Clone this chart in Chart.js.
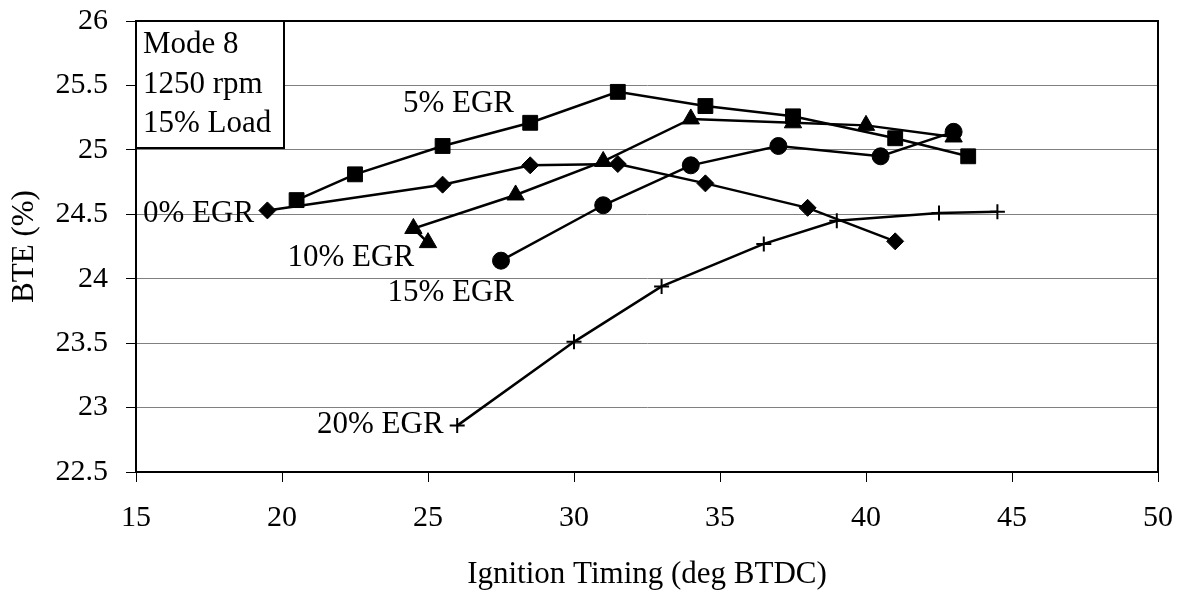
<!DOCTYPE html>
<html>
<head>
<meta charset="utf-8">
<script src="https://cdn.jsdelivr.net/npm/chart.js@4/dist/chart.umd.min.js"></script>
<style>
  html, body { margin: 0; padding: 0; background: #fff; }
  #wrap { width: 1184px; height: 595px; }
</style>
</head>
<body>
<div id="wrap"><canvas id="c" width="1184" height="595"></canvas></div>
<script>
// Brake thermal efficiency vs ignition timing, Mode 8 (1250 rpm, 15% load)
const timing0 = [19.5, 25.5, 28.5, 31.5, 34.5, 38, 41];
const bte0    = [24.53, 24.73, 24.88, 24.89, 24.74, 24.55, 24.29];

const timing5 = [20.5, 22.5, 25.5, 28.5, 31.5, 34.5, 37.5, 41, 43.5];
const bte5    = [24.61, 24.81, 25.03, 25.21, 25.45, 25.34, 25.26, 25.09, 24.95];

const timing10 = [25, 24.5, 28, 31, 34, 37.5, 40, 43];
const bte10    = [24.28, 24.39, 24.65, 24.91, 25.24, 25.21, 25.19, 25.10];

const timing15 = [27.5, 31, 34, 37, 40.5, 43];
const bte15    = [24.14, 24.57, 24.88, 25.03, 24.95, 25.14];

const timing20 = [26, 30, 33, 36.5, 39, 42.5, 44.5];
const bte20    = [22.86, 23.51, 23.94, 24.27, 24.45, 24.51, 24.52];

const seriesNames = ['0% EGR', '5% EGR', '10% EGR', '15% EGR', '20% EGR'];

const xTickValues = [15, 20, 25, 30, 35, 40, 45, 50];
const yTickValues = [22.5, 23, 23.5, 24, 24.5, 25, 25.5, 26];
const yTickLabels = ['22.5', '23', '23.5', '24', '24.5', '25', '25.5', '26'];

// where each curve's name sits, in axis units (left edge, baseline)
const labelX = [15.24, 24.14, 20.19, 23.61, 21.2];
const labelY = [24.44, 25.294, 24.099, 23.83, 22.80];

const noteLines = ['Mode 8', '1250 rpm', '15% Load'];

const SERIF = '"Liberation Serif", "Times New Roman", serif';

function points(xs, ys) {
  return xs.map((v, i) => ({ x: v, y: ys[i] }));
}

const markerStyle = [
  { pointStyle: 'rectRot', pointRadius: 8.5, pointBorderWidth: 1 },
  { pointStyle: 'rect', pointRadius: 10.5, pointBorderWidth: 1 },
  { pointStyle: 'triangle', pointRadius: 10, pointBorderWidth: 1 },
  { pointStyle: 'circle', pointRadius: 8.5, pointBorderWidth: 1 },
  { pointStyle: 'cross', pointRadius: 7.5, pointBorderWidth: 2 }
];

const seriesData = [
  points(timing0, bte0),
  points(timing5, bte5),
  points(timing10, bte10),
  points(timing15, bte15),
  points(timing20, bte20)
];

const datasets = seriesData.map((d, i) => Object.assign({
  label: seriesNames[i],
  data: d,
  borderColor: '#000',
  backgroundColor: '#000',
  borderWidth: 2.5,
  pointBackgroundColor: '#000',
  pointBorderColor: '#000',
  tension: 0,
  fill: false
}, markerStyle[i]));

const overlay = {
  id: 'overlay',
  afterDatasetsDraw(chart) {
    const { ctx, chartArea: a, scales: { x, y } } = chart;
    ctx.save();
    // plot frame
    ctx.strokeStyle = '#000';
    ctx.lineWidth = 2;
    ctx.strokeRect(a.left, a.top, a.right - a.left, a.bottom - a.top);

    // curve names
    ctx.fillStyle = '#000';
    ctx.font = '31px ' + SERIF;
    ctx.textAlign = 'left';
    ctx.textBaseline = 'alphabetic';
    seriesNames.forEach((name, i) => {
      ctx.fillText(name, x.getPixelForValue(labelX[i]), y.getPixelForValue(labelY[i]));
    });

    // operating-point note box
    const bw = 148, bh = 127;
    ctx.fillStyle = '#fff';
    ctx.fillRect(a.left, a.top, bw, bh);
    ctx.strokeRect(a.left, a.top, bw, bh);
    ctx.fillStyle = '#000';
    noteLines.forEach((t, i) => {
      ctx.fillText(t, a.left + 7, a.top + 32 + i * 39.5);
    });
    ctx.restore();
  }
};

new Chart(document.getElementById('c'), {
  type: 'line',
  data: { datasets },
  plugins: [overlay],
  options: {
    responsive: false,
    animation: false,
    layout: { padding: { left: 0, right: 26, top: 21, bottom: 0 } },
    plugins: {
      legend: { display: false },
      tooltip: { enabled: false }
    },
    scales: {
      x: {
        type: 'linear',
        min: 15,
        max: 50,
        afterBuildTicks: (s) => { s.ticks = xTickValues.map(v => ({ value: v })); },
        afterFit: (s) => { s.height = 123; s.paddingLeft = 0; s.paddingRight = 0; },
        grid: { drawOnChartArea: false, tickLength: 10, tickColor: '#000', tickWidth: 1 },
        border: { display: true, color: '#000', width: 2 },
        ticks: {
          color: '#000',
          padding: 18,
          font: { family: SERIF, size: 30 },
          maxRotation: 0,
          callback: (v) => String(v)
        },
        title: {
          display: true,
          text: 'Ignition Timing (deg BTDC)',
          color: '#000',
          font: { family: SERIF, size: 31 },
          padding: { top: 0, bottom: 2 }
        }
      },
      y: {
        type: 'linear',
        min: 22.5,
        max: 26,
        afterBuildTicks: (s) => { s.ticks = yTickValues.map(v => ({ value: v })); },
        afterFit: (s) => { s.width = 136; s.paddingTop = 0; s.paddingBottom = 0; },
        grid: { color: '#808080', lineWidth: 1, tickLength: 10, tickColor: '#000' },
        border: { display: true, color: '#000', width: 2 },
        ticks: {
          color: '#000',
          padding: 18,
          font: { family: SERIF, size: 30 },
          callback: (v) => yTickLabels[yTickValues.indexOf(v)]
        },
        title: {
          display: true,
          text: 'BTE (%)',
          color: '#000',
          font: { family: SERIF, size: 31 },
          padding: { top: 6, bottom: 0 }
        }
      }
    }
  }
});
</script>
</body>
</html>
